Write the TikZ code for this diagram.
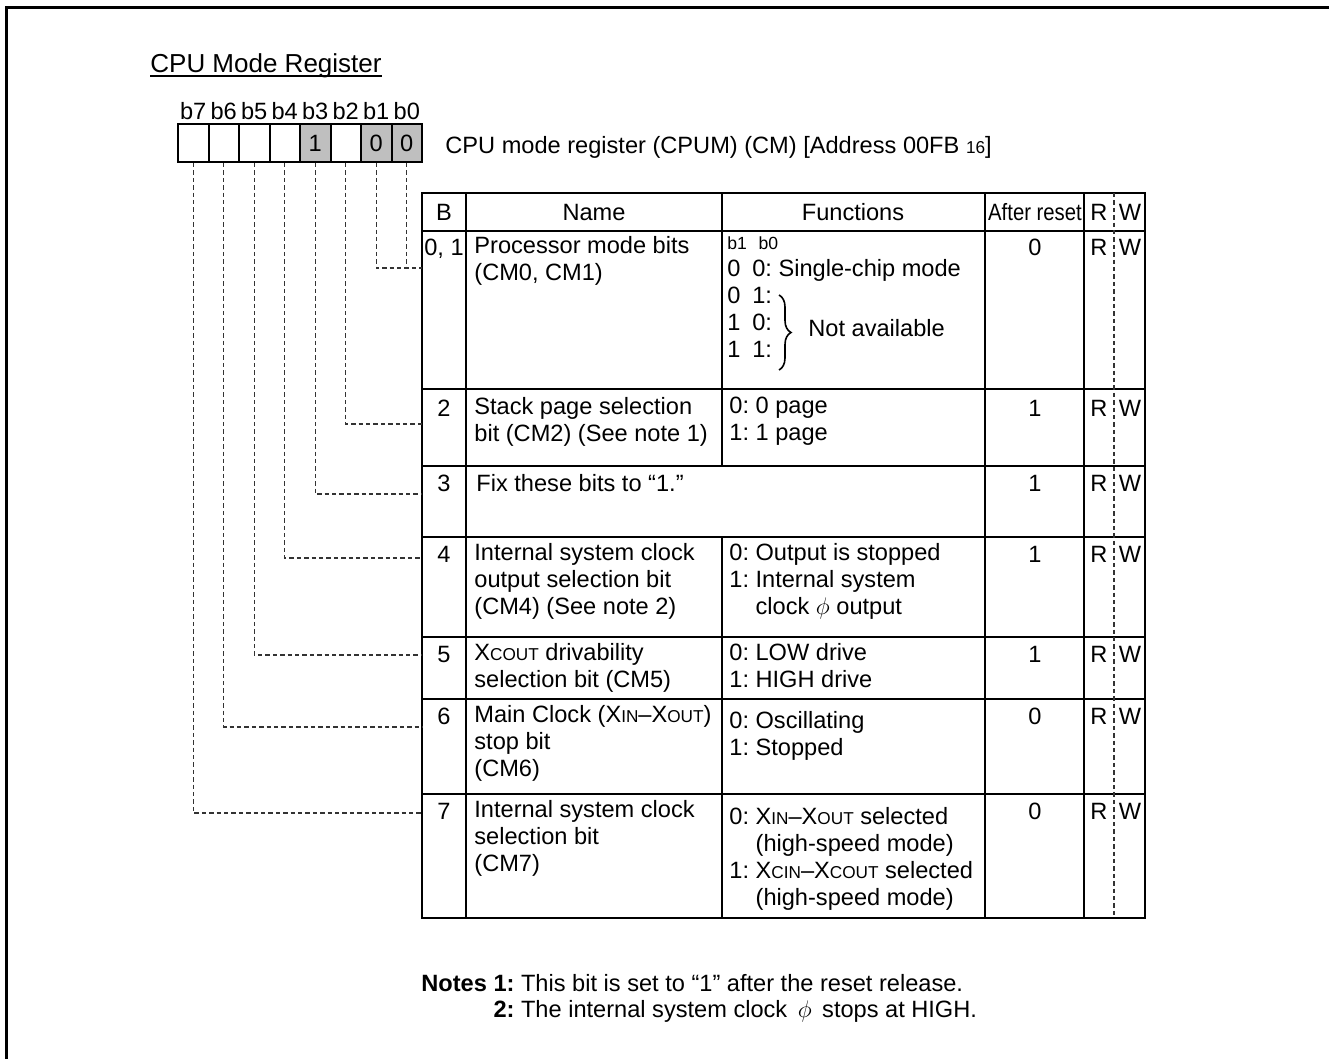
\documentclass[tikz,border=0pt]{standalone}
\usepackage{fontspec}
\setmainfont{Liberation Sans}
\usetikzlibrary{positioning, decorations.pathreplacing}

\newcommand{\scap}[1]{{\fontsize{8.6}{10}\selectfont #1}}
\newcommand{\ind}{\phantom{1: }}
\frenchspacing

\begin{document}
\begin{tikzpicture}[
    x=0.5pt, y=-0.5pt,
    font=\fontsize{11.8}{13.5}\selectfont,
    % lines
    frameline/.style={line width=1.5pt},
    gridline/.style={line width=1pt},
    leader/.style={line width=0.55pt, black!80, dash pattern=on 2.2pt off 1.5pt},
    % register cells and table texts
    bitcell/.style={draw, line width=1pt, minimum width=15.25pt, minimum height=19pt, inner sep=0pt},
    txtcell/.style={anchor=north west, inner sep=0pt, align=left, execute at begin node=\strut},
    numcell/.style={anchor=north, inner sep=0pt, execute at begin node=\strut},
    headcell/.style={anchor=base, inner sep=0pt}
]
\useasboundingbox (0,0) rectangle (1329,1059);

% ========== FRAME ==========
\draw[frameline] (6,1070) -- (6,7.5) -- (1340,7.5);

% ========== TITLE ==========
\node[anchor=base west, inner sep=0pt, font=\fontsize{13}{15}\selectfont] (title) at (150,73) {CPU Mode Register};
\draw[line width=0.6pt] ([yshift=-1.5pt]title.base west) -- ([yshift=-1.5pt]title.base east);

% ========== REGISTER ==========
\foreach \i in {0,...,7} {
    \node[bitcell] (cell\i) at ({193.25+(7-\i)*30.5},143) {};
    \node[headcell] (lbl\i) at ({193.25+(7-\i)*30.5},120) {b\i};
}
\foreach \i/\val in {3/1, 1/0, 0/0}
    \node[bitcell, fill=black!25] (fix\i) at (cell\i) {\val};

\node[anchor=base west, inner sep=0pt] (cpum) at (445,154) {CPU mode register (CPUM) (CM) [Address 00FB {\fontsize{8.6}{10}\selectfont 16}]};

% ========== TABLE GRID ==========
\coordinate (tl) at (422,193);
\coordinate (br) at (1145,918);
\draw[gridline] (tl) rectangle (br);
\foreach \y in {231,389,466,537,637,699,794}
    \draw[gridline] (422,\y) -- (1145,\y);
\foreach \x in {466,985,1084}
    \draw[gridline] (\x,193) -- (\x,918);
\draw[gridline] (722,193) -- (722,466) (722,537) -- (722,918);
\draw[leader] (1114,193) -- (1114,918);

% Header
\node[headcell] (hb) at (444,221) {B};
\node[headcell] (hname) at (594,221) {Name};
\node[headcell] (hfunc) at (853,221) {Functions};
\node[headcell] (hrst) at (1035,221) {\scalebox{0.86}[1]{After reset}};
\node[headcell] (hr) at (1099,221) {R};
\node[headcell] (hw) at (1130,221) {W};

% ========== ROWS ==========
% bits 0, 1
\node[numcell] (b01) at (444,236) {0, 1};
\node[txtcell] (n01) at (474,236) {Processor mode bits\\(CM0, CM1)};
\node[txtcell] (f01) at (727,236) {{\fontsize{8.8}{10}\selectfont b1\enspace\,b0}\\0\enspace 0: Single-chip mode\\0\enspace 1:\\1\enspace 0:\\1\enspace 1:};
\coordinate (brtop) at (779,295);
\coordinate (brbot) at (779,370);
\draw[decorate, decoration={brace, amplitude=6pt}, line width=0.8pt] (brtop) -- (brbot);
\node[anchor=base west, inner sep=0pt] (na) at (808,337) {Not available};

% bit 2
\node[numcell] (b2) at (444,397) {2};
\node[txtcell] (n2) at (474,397) {Stack page selection\\bit (CM2) (See note 1)};
\node[txtcell] (f2) at (729,397) {0: 0 page\\1: 1 page};

% bit 3
\node[numcell] (b3) at (444,472) {3};
\node[txtcell] (n3) at (476,472) {Fix these bits to “1.”};

% bit 4
\node[numcell] (b4) at (444,543) {4};
\node[txtcell] (n4) at (474,543) {Internal system clock\\output selection bit\\(CM4) (See note 2)};
\node[txtcell] (f4) at (729,543) {0: Output is stopped\\1: Internal system\\\ind clock $\phi$ output};

% bit 5
\node[numcell] (b5) at (444,643) {5};
\node[txtcell] (n5) at (474,643) {X\scap{COUT} drivability\\selection bit (CM5)};
\node[txtcell] (f5) at (729,643) {0: LOW drive\\1: HIGH drive};

% bit 6
\node[numcell] (b6) at (444,705) {6};
\node[txtcell] (n6) at (474,705) {Main Clock (X\scap{IN}--X\scap{OUT})\\stop bit\\(CM6)};
\node[txtcell] (f6) at (729,711) {0: Oscillating\\1: Stopped};

% bit 7
\node[numcell] (b7) at (444,800) {7};
\node[txtcell] (n7) at (474,800) {Internal system clock\\selection bit\\(CM7)};
\node[txtcell] (f7) at (729,807) {0: X\scap{IN}--X\scap{OUT} selected\\\ind(high-speed mode)\\1: X\scap{CIN}--X\scap{COUT} selected\\\ind(high-speed mode)};

% After reset, R, W
\foreach \y/\v [count=\n] in {236/0, 397/1, 472/1, 543/1, 643/1, 705/0, 800/0} {
    \node[numcell] (rst\n) at (1035,\y) {\v};
    \node[numcell] (rd\n) at (1099,\y) {R};
    \node[numcell] (wr\n) at (1130,\y) {W};
}

% ========== LEADERS ==========
\foreach \i/\y in {1/268, 2/424, 3/494, 4/558, 5/655, 6/727, 7/813} {
    \coordinate (tap\i) at (422,\y);
    \draw[leader] (cell\i.south) |- (tap\i);
}
\draw[leader] (cell0.south) -- (cell0.south |- tap1);

% ========== NOTES ==========
\node[anchor=base west, inner sep=0pt] (note1) at (421,991) {\textbf{Notes 1:} This bit is set to “1” after the reset release.};
\node[anchor=base west, inner sep=0pt] (note2) at (421,1017) {\phantom{\textbf{Notes }}\textbf{2:} The internal system clock \,$\phi$\, stops at HIGH.};

\end{tikzpicture}
\end{document}
